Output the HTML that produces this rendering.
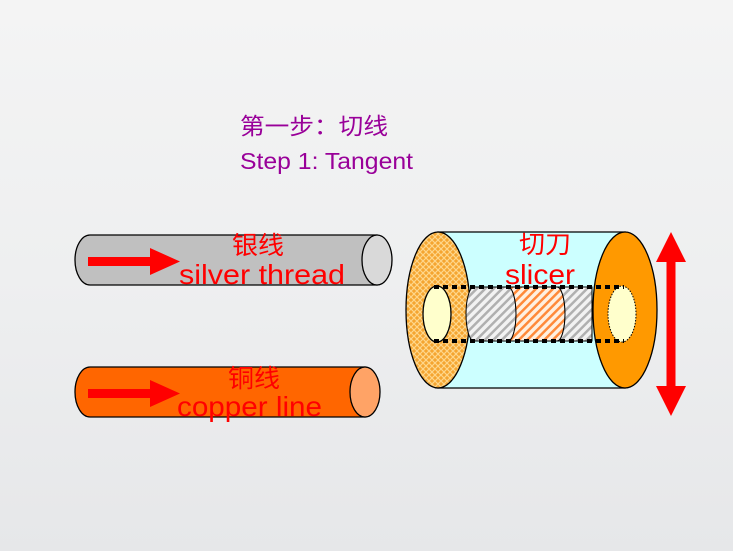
<!DOCTYPE html>
<html><head><meta charset="utf-8"><style>
html,body{margin:0;padding:0}
body{width:733px;height:551px;overflow:hidden;background:linear-gradient(180deg,#f4f4f4 0%,#eeeff0 50%,#e6e7e9 100%)}
svg{display:block}
text{font-family:"Liberation Sans","Noto Sans CJK SC",sans-serif}
</style></head><body>
<svg width="733" height="551" viewBox="0 0 733 551" xmlns="http://www.w3.org/2000/svg">
<defs>
<pattern id="xh" width="6" height="6" patternUnits="userSpaceOnUse">
<rect width="6" height="6" fill="#f5a530"/>
<path d="M0 0L6 6M6 0L0 6" stroke="#ffd68a" stroke-width="1.2"/>
</pattern>
<pattern id="gh" width="6" height="6" patternUnits="userSpaceOnUse" patternTransform="rotate(45)">
<rect width="6" height="6" fill="#f2f2f2"/>
<rect width="2.5" height="6" fill="#b0b0b0"/>
</pattern>
<pattern id="oh" width="6" height="6" patternUnits="userSpaceOnUse" patternTransform="rotate(45)">
<rect width="6" height="6" fill="#fff0e0"/>
<rect width="2.5" height="6" fill="#ff8a3a"/>
</pattern>
</defs>

<text x="240" y="134" font-size="23" fill="#990099" textLength="148" lengthAdjust="spacingAndGlyphs">第一步：切线</text>
<text x="240" y="169" font-size="23" fill="#990099" textLength="173" lengthAdjust="spacingAndGlyphs">Step 1: Tangent</text>

<!-- silver -->
<path d="M90 235 L377 235 L377 285 L90 285 A15 25 0 0 1 90 235Z" fill="#c0c0c0" stroke="#000" stroke-width="1.3"/>
<ellipse cx="377" cy="260" rx="15" ry="25" fill="#d9d9d9" stroke="#000" stroke-width="1.3"/>
<path d="M88 257 L150 257 L150 248 L180 261.5 L150 275 L150 266 L88 266Z" fill="#ff0000"/>
<text x="232" y="254" font-size="25" fill="#ff0000" textLength="52" lengthAdjust="spacingAndGlyphs">银线</text>
<text x="179" y="284" font-size="28" fill="#ff0000" textLength="166" lengthAdjust="spacingAndGlyphs">silver thread</text>

<!-- copper -->
<path d="M90 367 L365 367 L365 417 L90 417 A15 25 0 0 1 90 367Z" fill="#ff6600" stroke="#000" stroke-width="1.3"/>
<ellipse cx="365" cy="392" rx="15" ry="25" fill="#ffa366" stroke="#000" stroke-width="1.3"/>
<path d="M88 389 L150 389 L150 380 L180 393.5 L150 407 L150 398 L88 398Z" fill="#ff0000"/>
<text x="228" y="387" font-size="25" fill="#ff0000" textLength="52" lengthAdjust="spacingAndGlyphs">铜线</text>
<text x="177" y="416" font-size="28" fill="#ff0000" textLength="145" lengthAdjust="spacingAndGlyphs">copper line</text>

<!-- slicer -->
<path d="M438 232 L625 232 L625 388 L438 388Z" fill="#ccffff" stroke="#000" stroke-width="1.3"/>
<ellipse cx="438" cy="310" rx="32" ry="78" fill="url(#xh)" stroke="#000" stroke-width="1.3"/>
<ellipse cx="437" cy="314" rx="14" ry="28" fill="#ffffcc" stroke="#000" stroke-width="1.3"/>
<path d="M474 287 L508 287 A8 27 0 0 1 508 341 L474 341 A8 27 0 0 1 474 287Z" fill="url(#gh)" stroke="#000"/>
<path d="M508 287 L557 287 A8 27 0 0 1 557 341 L508 341 A8 27 0 0 0 508 287Z" fill="url(#oh)" stroke="#000"/>
<path d="M557 287 L592 287 L592 341 L557 341 A8 27 0 0 0 557 287Z" fill="url(#gh)" stroke="#000"/>
<ellipse cx="625" cy="310" rx="32" ry="78" fill="#ff9900" stroke="#000" stroke-width="1.3"/>
<ellipse cx="622" cy="314" rx="14" ry="28" fill="#ffffcc" stroke="#000" stroke-dasharray="1.5 1.5"/>
<line x1="434" y1="287" x2="624" y2="287" stroke="#000" stroke-width="4" stroke-dasharray="5 4"/>
<line x1="434" y1="341" x2="624" y2="341" stroke="#000" stroke-width="4" stroke-dasharray="5 4"/>
<text x="519" y="253" font-size="25" fill="#ff0000" textLength="52" lengthAdjust="spacingAndGlyphs">切刀</text>
<text x="505" y="284" font-size="28" fill="#ff0000" textLength="70" lengthAdjust="spacingAndGlyphs">slicer</text>

<!-- double arrow -->
<path d="M671 232 L686 262 L675.5 262 L675.5 386 L686 386 L671 416 L656 386 L666.5 386 L666.5 262 L656 262Z" fill="#ff0000"/>
</svg>
</body></html>
